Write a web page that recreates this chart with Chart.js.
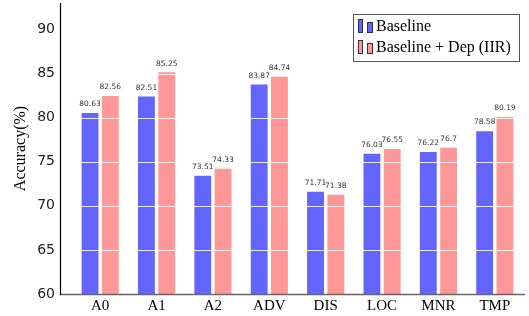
<!DOCTYPE html>
<html>
<head>
<meta charset="utf-8">
<script src="https://cdn.jsdelivr.net/npm/chart.js@4.4.0/dist/chart.umd.min.js"></script>
<style>
  html, body { margin: 0; padding: 0; background: #fff; }
</style>
</head>
<body>
<canvas id="chart" width="529" height="316"></canvas>
<script>
// categories and values
const categories = ['A0', 'A1', 'A2', 'ADV', 'DIS', 'LOC', 'MNR', 'TMP'];
const baseline = [80.63, 82.51, 73.51, 83.87, 71.71, 76.03, 76.22, 78.58];
const baselineDep = [82.56, 85.25, 74.33, 84.74, 71.38, 76.55, 76.7, 80.19];
const seriesNames = ['Baseline', 'Baseline + Dep (IIR)'];
const yTicks = [60, 65, 70, 75, 80, 85, 90];

const blue = '#6464fe';
const pink = '#fe9898';

// axis lines, value labels and the legend box
const extras = {
    id: 'extras',
    afterDatasetsDraw(chart) {
        const c = chart.ctx;
        const area = chart.chartArea;
        const y = chart.scales.y;
        // white grid lines over the bars
        c.save();
        c.strokeStyle = 'rgba(255,255,255,0.9)';
        c.lineWidth = 1;
        yTicks.forEach(t => {
            if (t === 60) return;
            const py = Math.round(y.getPixelForValue(t)) + 0.5;
            c.beginPath();
            c.moveTo(60, py);
            c.lineTo(525, py);
            c.stroke();
        });
        // value labels
        c.fillStyle = '#333';
        c.font = '7.5px "DejaVu Sans", sans-serif';
        c.textAlign = 'center';
        c.textBaseline = 'bottom';
        chart.data.datasets.forEach((ds, i) => {
            chart.getDatasetMeta(i).data.forEach((bar, j) => {
                c.fillText(String(ds.data[j]), bar.x, bar.y - 4);
            });
        });
        // axes
        c.strokeStyle = '#666';
        c.lineWidth = 1.5;
        c.beginPath();
        c.moveTo(60, area.bottom + 0.5);
        c.lineTo(525, area.bottom + 0.5);
        c.stroke();
        c.strokeStyle = '#000';
        c.lineWidth = 1.2;
        c.beginPath();
        c.moveTo(60.5, area.top);
        c.lineTo(60.5, area.bottom + 1);
        c.stroke();
        // legend
        c.fillStyle = '#fff';
        c.fillRect(353, 14, 166, 47);
        c.strokeStyle = '#555';
        c.lineWidth = 1;
        c.strokeRect(353.5, 14.5, 166, 47);
        const cols = [blue, pink];
        c.font = '16px "Liberation Serif", serif';
        c.textAlign = 'left';
        c.textBaseline = 'middle';
        seriesNames.forEach((name, i) => {
            const cy = 26 + i * 21;
            c.fillStyle = cols[i];
            c.strokeStyle = '#333';
            c.fillRect(358, cy - 7, 4, 13);
            c.strokeRect(358.5, cy - 6.5, 4, 13);
            c.fillRect(367, cy - 4, 5, 10);
            c.strokeRect(367.5, cy - 3.5, 5, 10);
            c.fillStyle = '#000';
            c.fillText(name, 376, cy + 1);
        });
        c.restore();
    }
};

new Chart(document.getElementById('chart'), {
    type: 'bar',
    data: {
        labels: categories,
        datasets: [
            { label: seriesNames[0], data: baseline, backgroundColor: blue,
              borderColor: 'rgba(255,255,255,0.7)', borderWidth: 1 },
            { label: seriesNames[1], data: baselineDep, backgroundColor: pink,
              borderColor: 'rgba(255,255,255,0.7)', borderWidth: 1 }
        ]
    },
    plugins: [extras],
    options: {
        responsive: false,
        animation: false,
        layout: { padding: { top: 3, right: 6, left: 0, bottom: 0 } },
        categoryPercentage: 0.72,
        barPercentage: 0.93,
        plugins: {
            legend: { display: false },
            tooltip: { enabled: false }
        },
        scales: {
            x: {
                grid: { display: false, drawTicks: false },
                border: { display: false },
                ticks: {
                    color: '#000',
                    padding: 3,
                    font: { family: '"Liberation Serif", serif', size: 15 }
                },
                afterFit(scale) {
                    scale.height = 22;
                    scale.paddingLeft = 0;
                    scale.paddingRight = 0;
                }
            },
            y: {
                min: 60,
                max: 93,
                grid: { display: false, drawTicks: false },
                border: { display: false },
                afterBuildTicks(scale) { scale.ticks = yTicks.map(v => ({ value: v })); },
                ticks: {
                    color: '#222',
                    padding: 17,
                    font: { family: '"DejaVu Sans", sans-serif', size: 14 }
                },
                title: {
                    display: true,
                    text: 'Accuracy(%)',
                    color: '#000',
                    padding: { top: 11, bottom: 0 },
                    font: { family: '"Liberation Serif", serif', size: 16 }
                },
                afterFit(scale) {
                    scale.width = 72;
                    scale.paddingTop = 0;
                    scale.paddingBottom = 0;
                }
            }
        }
    }
});
</script>
</body>
</html>
